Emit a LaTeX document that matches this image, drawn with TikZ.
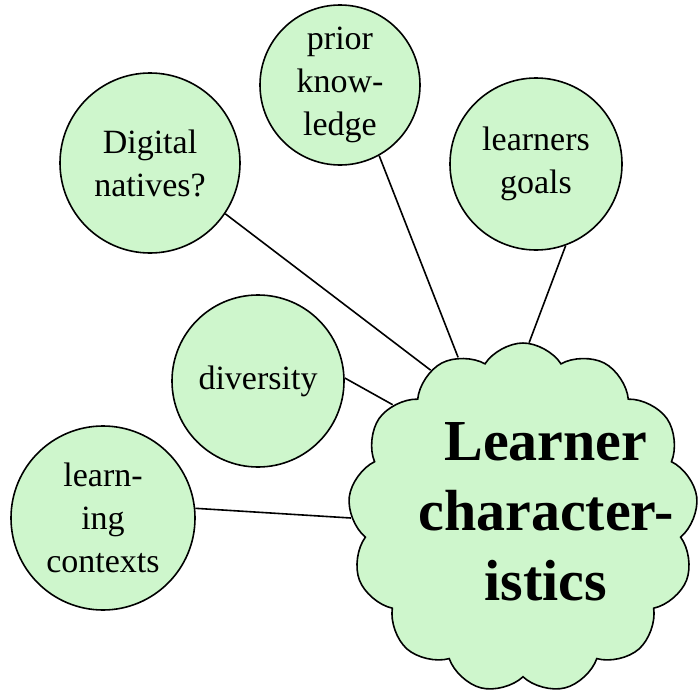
\documentclass[tikz,border=0pt]{standalone}
\usepackage{fontspec}
\setmainfont{Liberation Serif}
\usetikzlibrary{shapes.symbols}
\definecolor{palegreen}{RGB}{206,246,204}
\begin{document}
\begin{tikzpicture}[
        x=1pt, y=-1pt,
        topic/.style={circle, draw=black, line width=1.6pt, fill=palegreen, inner sep=0pt,
            align=center, font=\fontsize{34}{43}\selectfont},
        puffy/.style={cloud, cloud puffs=13, cloud puff arc=115, aspect=1, draw=black,
            line width=1.6pt, fill=palegreen, minimum width=350pt, minimum height=350pt},
        link/.style={draw=black, line width=1.6pt}
    ]
        \useasboundingbox (0,0) rectangle (699,696);

        % Nodes
        \node[topic, minimum size=180pt] (digital) at (150,163) {Digital\\natives?};
        \node[topic, minimum size=160pt] (prior) at (340,85) {prior\\know-\\ledge};
        \node[topic, minimum size=172pt] (goals) at (536,164) {learners\\goals};
        \node[topic, minimum size=172pt] (diversity) at (258,381) {diversity};
        \node[topic, minimum size=184pt] (contexts) at (103,518) {learn-\\ing\\contexts};
        \node[puffy] (learner) at (523,518) {};
        \node[align=center, font=\fontsize{58}{70}\selectfont\bfseries] (title) at (546,512)
            {Learner\\character-\\istics};

        % Connectors
        \draw[link] (digital.-34) -- (learner.122);
        \draw[link] (prior.-61) -- (learner.112);
        \draw[link] (goals.-70) -- (learner.88);
        \draw[link] (diversity.2) -- (learner.139);
        \draw[link] (contexts.6) -- (learner.180);
    \end{tikzpicture}
\end{document}
